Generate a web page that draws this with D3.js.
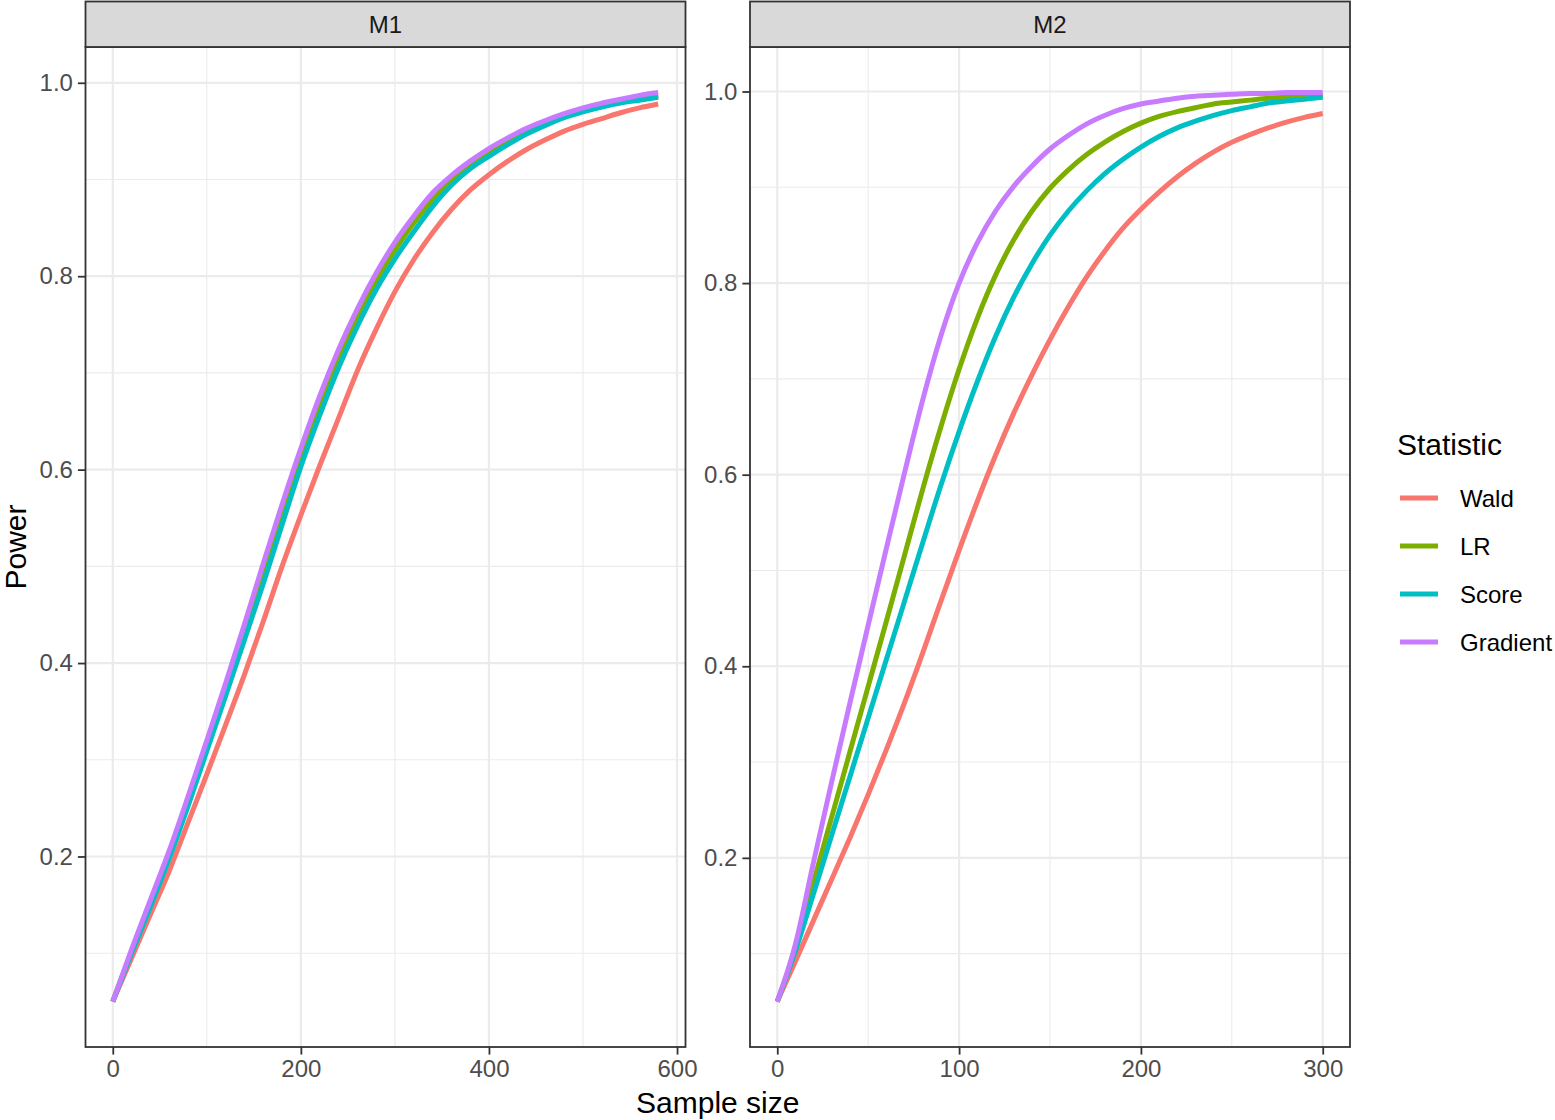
<!DOCTYPE html>
<html>
<head>
<meta charset="utf-8">
<script src="https://cdn.jsdelivr.net/npm/d3@7"></script>
<style>
  body { margin: 0; background: #fff; }
  svg { font-family: "Liberation Sans", Arial, sans-serif; }
</style>
</head>
<body>
<svg width="1555" height="1120"></svg>
<script>
// sample sizes per panel
var sizesM1 = [0, 20, 40, 60, 80, 100, 120, 140, 160, 180, 200, 220, 240, 260, 280,
               300, 320, 340, 360, 380, 400, 420, 440, 460, 480, 500, 520, 540, 560, 580];
var sizesM2 = [0, 10, 20, 30, 40, 50, 60, 70, 80, 90, 100, 110, 120, 130, 140, 150,
               160, 170, 180, 190, 200, 210, 220, 230, 240, 250, 260, 270, 280, 290, 300];

// power, panel M1
var waldM1     = [0.05, 0.095, 0.14, 0.185, 0.235, 0.285, 0.336, 0.388, 0.443, 0.5, 0.553, 0.604, 0.653, 0.702, 0.745,
                  0.784, 0.817, 0.845, 0.869, 0.889, 0.905, 0.919, 0.931, 0.941, 0.95, 0.957, 0.963, 0.969, 0.974, 0.978];
var lrM1       = [0.05, 0.102, 0.152, 0.203, 0.257, 0.315, 0.373, 0.434, 0.495, 0.555, 0.612, 0.666, 0.715, 0.758, 0.795,
                  0.827, 0.855, 0.879, 0.9, 0.915, 0.928, 0.94, 0.95, 0.959, 0.966, 0.972, 0.977, 0.981, 0.984, 0.987];
var scoreM1    = [0.05, 0.1, 0.148, 0.198, 0.252, 0.309, 0.366, 0.424, 0.482, 0.543, 0.603, 0.656, 0.705, 0.748, 0.786,
                  0.818, 0.846, 0.872, 0.894, 0.911, 0.924, 0.936, 0.947, 0.956, 0.964, 0.97, 0.975, 0.979, 0.982, 0.985];
var gradientM1 = [0.05, 0.104, 0.155, 0.206, 0.262, 0.32, 0.379, 0.44, 0.503, 0.564, 0.622, 0.676, 0.724, 0.766, 0.803,
                  0.835, 0.862, 0.886, 0.904, 0.919, 0.932, 0.943, 0.953, 0.961, 0.968, 0.974, 0.979, 0.983, 0.987, 0.99];

// power, panel M2
var waldM2     = [0.05, 0.092, 0.135, 0.178, 0.221, 0.266, 0.313, 0.362, 0.414, 0.468, 0.521, 0.572, 0.62, 0.664, 0.704, 0.741,
                  0.775, 0.806, 0.833, 0.857, 0.877, 0.895, 0.911, 0.925, 0.937, 0.947, 0.955, 0.962, 0.968, 0.973, 0.977];
var lrM2       = [0.05, 0.105, 0.175, 0.243, 0.311, 0.379, 0.447, 0.516, 0.585, 0.65, 0.71, 0.763, 0.808, 0.845, 0.875, 0.899,
                  0.918, 0.934, 0.947, 0.958, 0.967, 0.974, 0.979, 0.983, 0.987, 0.989, 0.991, 0.993, 0.994, 0.995, 0.996];
var scoreM2    = [0.05, 0.103, 0.163, 0.224, 0.285, 0.346, 0.407, 0.468, 0.529, 0.589, 0.645, 0.697, 0.744, 0.785, 0.82, 0.85,
                  0.875, 0.896, 0.914, 0.929, 0.942, 0.953, 0.962, 0.969, 0.975, 0.98, 0.984, 0.988, 0.99, 0.992, 0.994];
var gradientM2 = [0.05, 0.11, 0.196, 0.28, 0.362, 0.443, 0.523, 0.602, 0.678, 0.745, 0.8, 0.842, 0.875, 0.901, 0.922, 0.94,
                  0.954, 0.966, 0.975, 0.982, 0.987, 0.99, 0.993, 0.995, 0.996, 0.997, 0.998, 0.998, 0.999, 0.999, 0.999];

var statistics = ["Wald", "LR", "Score", "Gradient"];
var colours = ["#F8766D", "#7CAE00", "#00BFC4", "#C77CFF"];

var xTicksM1 = [0, 200, 400, 600], xMinorM1 = [100, 300, 500];
var xTicksM2 = [0, 100, 200, 300], xMinorM2 = [50, 150, 250];
var yTicks = [0.2, 0.4, 0.6, 0.8, 1.0], yMinor = [0.1, 0.3, 0.5, 0.7, 0.9];

var panels = [
  {name: "M1", left: 85.5, sizes: sizesM1, series: [waldM1, lrM1, scoreM1, gradientM1], xTicks: xTicksM1, xMinor: xMinorM1},
  {name: "M2", left: 750, sizes: sizesM2, series: [waldM2, lrM2, scoreM2, gradientM2], xTicks: xTicksM2, xMinor: xMinorM2}
];

var svg = d3.select("svg");
var panelW = 600, panelTop = 47, panelBottom = 1047;
var colour = d3.scaleOrdinal().domain(statistics).range(colours);

// ggplot style 5% expansion
function expand(ext) {
  var pad = (ext[1] - ext[0]) * 0.05;
  return [ext[0] - pad, ext[1] + pad];
}

panels.forEach(function(p) {
  var x = d3.scaleLinear().domain(expand(d3.extent(p.sizes))).range([p.left, p.left + panelW]);
  var allY = d3.merge(p.series);
  var y = d3.scaleLinear().domain(expand(d3.extent(allY))).range([panelBottom, panelTop]);

  var g = svg.append("g");

  // grid
  g.selectAll(".xminor").data(p.xMinor).enter().append("line")
      .attr("x1", function(d) { return x(d); }).attr("x2", function(d) { return x(d); })
      .attr("y1", panelTop).attr("y2", panelBottom)
      .attr("stroke", "#EBEBEB").attr("stroke-width", 1.1);
  g.selectAll(".yminor").data(yMinor).enter().append("line")
      .attr("y1", function(d) { return y(d); }).attr("y2", function(d) { return y(d); })
      .attr("x1", p.left).attr("x2", p.left + panelW)
      .attr("stroke", "#EBEBEB").attr("stroke-width", 1.1);
  g.selectAll(".xmajor").data(p.xTicks).enter().append("line")
      .attr("x1", function(d) { return x(d); }).attr("x2", function(d) { return x(d); })
      .attr("y1", panelTop).attr("y2", panelBottom)
      .attr("stroke", "#EBEBEB").attr("stroke-width", 2.2);
  g.selectAll(".ymajor").data(yTicks).enter().append("line")
      .attr("y1", function(d) { return y(d); }).attr("y2", function(d) { return y(d); })
      .attr("x1", p.left).attr("x2", p.left + panelW)
      .attr("stroke", "#EBEBEB").attr("stroke-width", 2.2);

  // lines
  var line = d3.line()
      .x(function(d) { return x(d[0]); })
      .y(function(d) { return y(d[1]); })
      .curve(d3.curveMonotoneX);

  p.series.forEach(function(vals, i) {
    g.append("path")
        .datum(p.sizes.map(function(n, j) { return [n, vals[j]]; }))
        .attr("fill", "none")
        .attr("stroke", colour(statistics[i]))
        .attr("stroke-width", 5)
        .attr("d", line);
  });

  // panel border
  g.append("rect")
      .attr("x", p.left).attr("y", panelTop).attr("width", panelW).attr("height", panelBottom - panelTop)
      .attr("fill", "none").attr("stroke", "#333333").attr("stroke-width", 1.8);

  // strip
  g.append("rect")
      .attr("x", p.left).attr("y", 1.5).attr("width", panelW).attr("height", panelTop - 1.5)
      .attr("fill", "#D9D9D9").attr("stroke", "#333333").attr("stroke-width", 1.8);
  g.append("text")
      .attr("x", p.left + panelW / 2).attr("y", 33)
      .attr("text-anchor", "middle").attr("font-size", 24).attr("fill", "#1A1A1A")
      .text(p.name);

  // axes
  var xAxis = d3.axisBottom(x).tickValues(p.xTicks).tickFormat(d3.format("d")).tickSizeOuter(0).tickSize(7.6).tickPadding(5);
  var yAxis = d3.axisLeft(y).tickValues(yTicks).tickFormat(d3.format(".1f")).tickSizeOuter(0).tickSize(7.6).tickPadding(5);

  var gx = g.append("g").attr("transform", "translate(0," + panelBottom + ")").call(xAxis);
  var gy = g.append("g").attr("transform", "translate(" + p.left + ",0)").call(yAxis);
  [gx, gy].forEach(function(a) {
    a.select(".domain").remove();
    a.selectAll(".tick line").attr("stroke", "#333333").attr("stroke-width", 1.8);
    a.selectAll(".tick text").attr("fill", "#4D4D4D").attr("font-size", 24).attr("font-family", null);
  });
});

// axis titles
svg.append("text")
    .attr("x", (85.5 + 1350) / 2).attr("y", 1113)
    .attr("text-anchor", "middle").attr("font-size", 30).attr("fill", "#000")
    .text("Sample size");
svg.append("text")
    .attr("transform", "translate(26,547) rotate(-90)")
    .attr("text-anchor", "middle").attr("font-size", 30).attr("fill", "#000")
    .text("Power");

// legend
var legend = svg.append("g");
legend.append("text")
    .attr("x", 1397).attr("y", 455)
    .attr("font-size", 30).attr("fill", "#000")
    .text("Statistic");

var item = legend.selectAll(".item").data(statistics).enter().append("g")
    .attr("transform", function(d, i) { return "translate(0," + (498 + i * 48) + ")"; });
item.append("line")
    .attr("x1", 1400).attr("x2", 1438).attr("y1", 0).attr("y2", 0)
    .attr("stroke", function(d) { return colour(d); }).attr("stroke-width", 5);
item.append("text")
    .attr("x", 1460).attr("y", 8.5)
    .attr("font-size", 24).attr("fill", "#000")
    .text(function(d) { return d; });
</script>
</body>
</html>
